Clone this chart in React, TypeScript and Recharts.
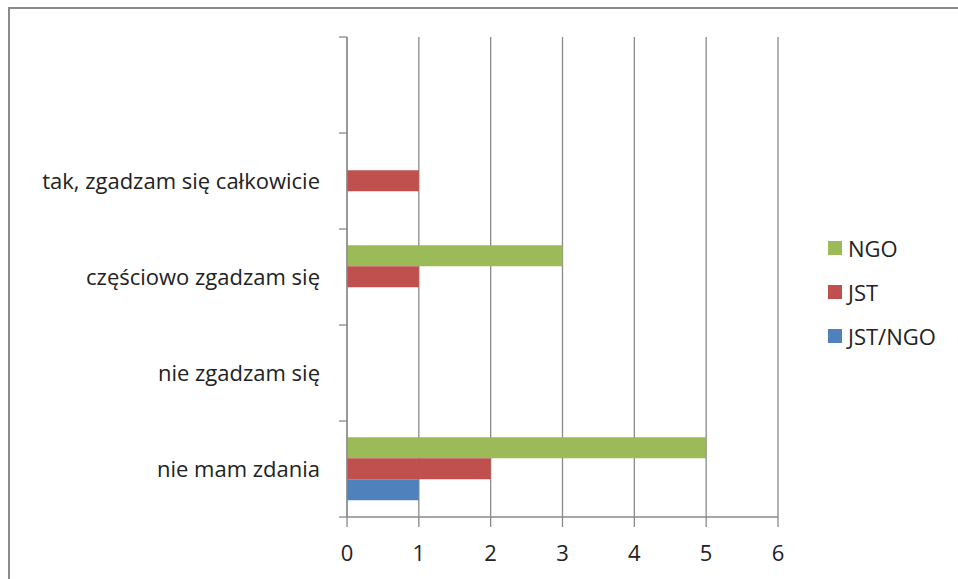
import React from 'react';
import { BarChart, Bar, XAxis, YAxis, CartesianGrid, Legend } from 'recharts';

const categories = ['', 'tak, zgadzam się całkowicie', 'częściowo zgadzam się', 'nie zgadzam się', 'nie mam zdania'];
const ngoValues = [0, 0, 3, 0, 5];
const jstValues = [0, 1, 1, 0, 2];
const jstNgoValues = [0, 0, 0, 0, 1];
const xTicks = [0, 1, 2, 3, 4, 5, 6];

const seriesNames = ['NGO', 'JST', 'JST/NGO'];
const seriesColors = ['#9BBB59', '#C0504D', '#4F81BD'];

const data = categories.map((c, i) => ({
  cat: c,
  NGO: ngoValues[i],
  JST: jstValues[i],
  'JST/NGO': jstNgoValues[i],
}));

const FONT = '"Open Sans", sans-serif';
const FS = 22;
const GRID = '#8a8a8a';
const TICK_MARGIN = 19;
const TICK_LEN = 8;

const CatTick = (props: any) => {
  const { x, y, payload, index } = props;
  const off = payload.offset || 0;
  const ax = x + TICK_MARGIN;
  const last = index === categories.length - 1;
  return (
    <g>
      <line x1={ax} x2={ax + TICK_LEN} y1={y - off} y2={y - off} stroke={GRID} strokeWidth={1.3} />
      {last && <line x1={ax} x2={ax + TICK_LEN} y1={y + off} y2={y + off} stroke={GRID} strokeWidth={1.3} />}
      <text x={x} y={y} dy="0.35em" textAnchor="end" fontFamily={FONT} fontSize={FS} fill="#222">
        {payload.value}
      </text>
    </g>
  );
};

const LegendContent = () => (
  <div style={{ fontFamily: FONT, fontSize: FS, color: '#222' }}>
    {seriesNames.map((n, i) => (
      <div key={n} style={{ display: 'flex', alignItems: 'center', height: 44 }}>
        <span style={{ display: 'inline-block', width: 14, height: 14, background: seriesColors[i], marginRight: 6 }} />
        <span>{n}</span>
      </div>
    ))}
  </div>
);

export default function App() {
  return (
    <div style={{ position: 'absolute', left: 0, top: 0, width: 958, height: 579, overflow: 'hidden', background: '#fff' }}>
      <div style={{ position: 'absolute', left: 8, top: 7, width: 980, height: 600, border: '2px solid #8a8a8a', boxSizing: 'border-box' }} />
      <div style={{ position: 'absolute', left: 0, top: 0 }}>
        <BarChart
          width={958}
          height={579}
          data={data}
          layout="vertical"
          margin={{ top: 37, right: 180, bottom: 17, left: 0 }}
          barCategoryGap="17%"
          barGap={0}
        >
          <CartesianGrid horizontal={false} stroke={GRID} strokeWidth={1.3} />
          <XAxis
            type="number"
            domain={[0, 6]}
            ticks={xTicks}
            interval={0}
            height={45}
            tickSize={10}
            tickMargin={18}
            axisLine={{ stroke: GRID, strokeWidth: 1.3 }}
            tickLine={{ stroke: GRID, strokeWidth: 1.3 }}
            tick={{ fontFamily: FONT, fontSize: FS, fill: '#222' }}
          />
          <YAxis
            type="category"
            dataKey="cat"
            width={347}
            interval={0}
            tickSize={TICK_LEN}
            tickMargin={TICK_MARGIN}
            tickLine={false}
            axisLine={{ stroke: GRID, strokeWidth: 1.3 }}
            tick={<CatTick />}
          />
          <Legend
            layout="vertical"
            align="center"
            verticalAlign="middle"
            content={<LegendContent />}
            wrapperStyle={{ position: 'absolute', left: 828, top: 226, width: 130 }}
          />
          {seriesNames.map((n, i) => (
            <Bar key={n} dataKey={n} fill={seriesColors[i]} isAnimationActive={false} />
          ))}
        </BarChart>
      </div>
    </div>
  );
}
